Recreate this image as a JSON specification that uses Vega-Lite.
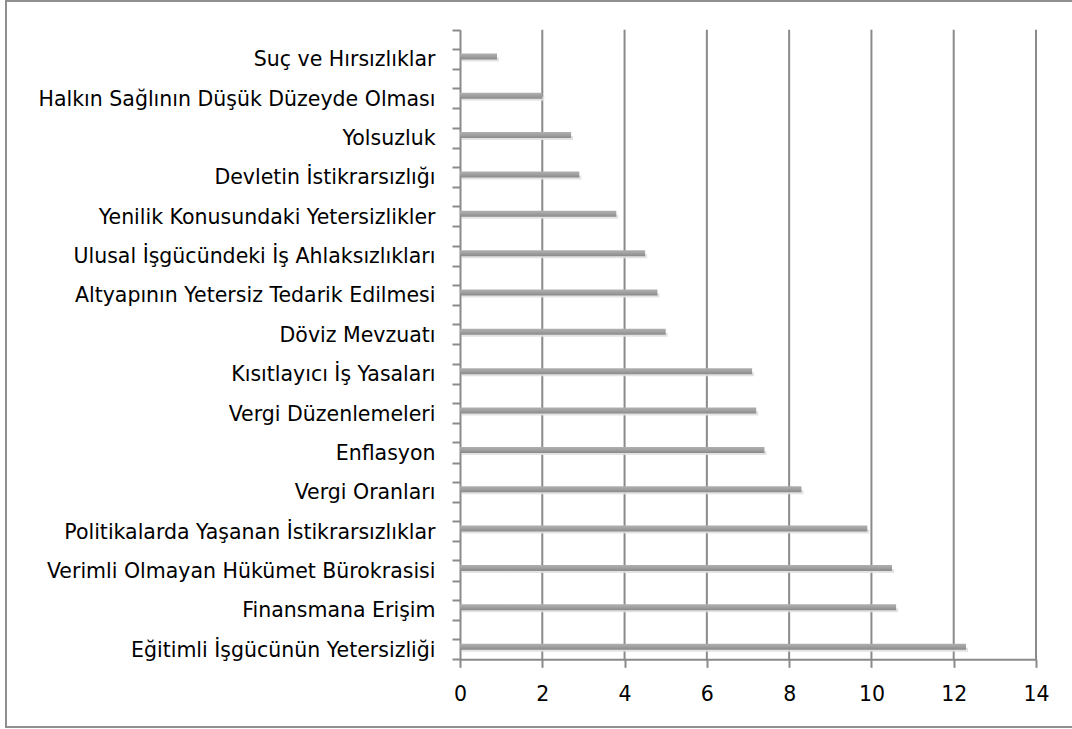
{
  "$schema": "https://vega.github.io/schema/vega-lite/v6.json",
  "autosize": "none",
  "padding": {"left": 6, "top": 1, "right": -1, "bottom": 2},
  "width": 1067,
  "height": 726,
  "background": "white",
  "config": {
    "view": {"stroke": "#8f8f8f", "strokeWidth": 2},
    "font": "DejaVu Sans"
  },
  "datasets": {
    "kalemler": [
      {"kategori": "Suç ve Hırsızlıklar", "deger": 0.9},
      {"kategori": "Halkın Sağlının Düşük Düzeyde Olması", "deger": 2.0},
      {"kategori": "Yolsuzluk", "deger": 2.7},
      {"kategori": "Devletin İstikrarsızlığı", "deger": 2.9},
      {"kategori": "Yenilik Konusundaki Yetersizlikler", "deger": 3.8},
      {"kategori": "Ulusal İşgücündeki İş Ahlaksızlıkları", "deger": 4.5},
      {"kategori": "Altyapının Yetersiz Tedarik Edilmesi", "deger": 4.8},
      {"kategori": "Döviz Mevzuatı", "deger": 5.0},
      {"kategori": "Kısıtlayıcı İş Yasaları", "deger": 7.1},
      {"kategori": "Vergi Düzenlemeleri", "deger": 7.2},
      {"kategori": "Enflasyon", "deger": 7.4},
      {"kategori": "Vergi Oranları", "deger": 8.3},
      {"kategori": "Politikalarda Yaşanan İstikrarsızlıklar", "deger": 9.9},
      {"kategori": "Verimli Olmayan Hükümet Bürokrasisi", "deger": 10.5},
      {"kategori": "Finansmana Erişim", "deger": 10.6},
      {"kategori": "Eğitimli İşgücünün Yetersizliği", "deger": 12.3}
    ],
    "izgara": [
      {"deger": 2}, {"deger": 4}, {"deger": 6}, {"deger": 8},
      {"deger": 10}, {"deger": 12}, {"deger": 14}
    ]
  },
  "layer": [
    {
      "data": {"name": "izgara"},
      "mark": {"type": "rule", "color": "#8a8a8a", "strokeWidth": 2},
      "encoding": {
        "x": {"field": "deger", "type": "quantitative"},
        "y": {"datum": 0, "type": "quantitative",
              "scale": {"domain": [0, 1], "range": [659.3, 28.7], "nice": false, "zero": false},
              "axis": null},
        "y2": {"datum": 1}
      }
    },
    {
      "data": {"name": "kalemler"},
      "mark": {"type": "bar", "size": 4, "color": "#e0e0e0", "yOffset": 10, "xOffset": 2, "opacity": 0.9},
      "encoding": {
        "y": {
          "field": "kategori", "type": "nominal", "sort": null,
          "scale": {"range": [28.7, 658.3], "paddingInner": 0, "paddingOuter": 0},
          "axis": {
            "title": null, "orient": "left", "offset": -454,
            "tickBand": "extent", "tickSize": 8, "tickColor": "#8a8a8a", "tickWidth": 2,
            "domainColor": "#8a8a8a", "domainWidth": 2,
            "labelFontSize": 20.5, "labelColor": "#000000", "labelPadding": 17,
            "labelOffset": 10.5, "labelLimit": 500, "grid": false
          }
        },
        "x": {
          "field": "deger", "type": "quantitative",
          "scale": {"domain": [0, 14], "range": [454, 1030], "nice": false},
          "axis": {
            "title": null, "orient": "bottom", "offset": -67.7,
            "values": [0, 2, 4, 6, 8, 10, 12, 14], "format": "d",
            "grid": false, "labelFlush": false,
            "tickSize": 8, "tickColor": "#8a8a8a", "tickWidth": 2,
            "domainColor": "#8a8a8a", "domainWidth": 2,
            "labelFontSize": 20.5, "labelColor": "#000000", "labelPadding": 17
          }
        }
      }
    },
    {
      "data": {"name": "kalemler"},
      "mark": {
        "type": "bar", "size": 6, "yOffset": 7,
        "color": {
          "gradient": "linear", "x1": 0, "y1": 0, "x2": 0, "y2": 1,
          "stops": [
            {"offset": 0, "color": "#b0b0b0"},
            {"offset": 0.5, "color": "#a0a0a0"},
            {"offset": 1, "color": "#8a8a8a"}
          ]
        }
      },
      "encoding": {
        "y": {
          "field": "kategori", "type": "nominal", "sort": null,
          "scale": {"range": [28.7, 658.3], "paddingInner": 0, "paddingOuter": 0},
          "axis": {
            "title": null, "orient": "left", "offset": -454,
            "tickBand": "center", "tickSize": 8, "tickColor": "#8a8a8a", "tickWidth": 2,
            "domain": false, "labels": false, "grid": false
          }
        },
        "x": {"field": "deger", "type": "quantitative"}
      }
    }
  ],
  "resolve": {"scale": {"y": "independent"}, "axis": {"y": "independent"}}
}
